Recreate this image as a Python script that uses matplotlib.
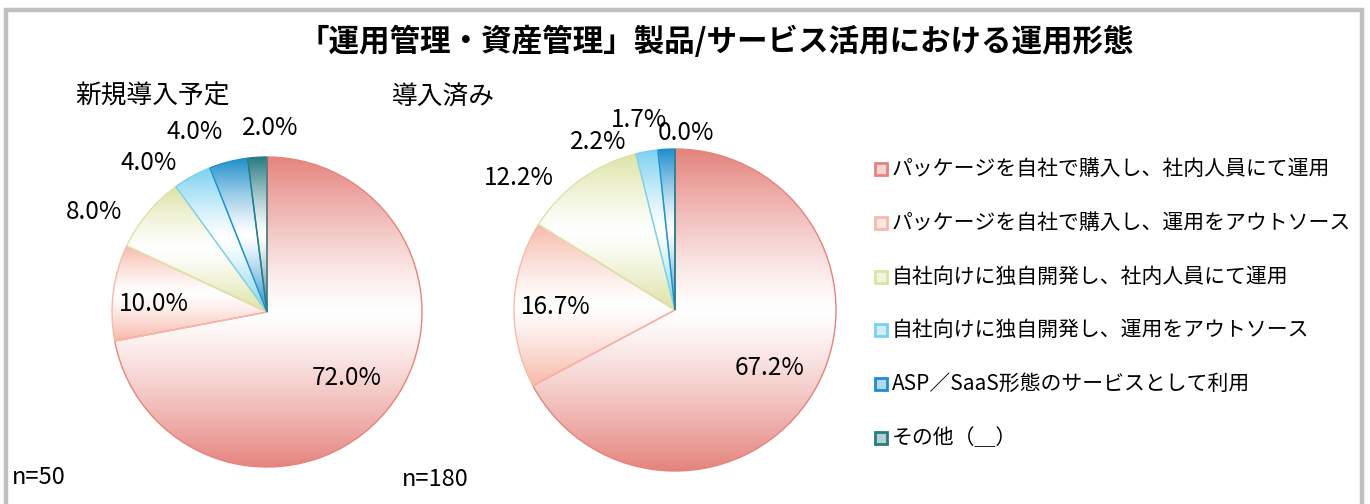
import numpy as np
import matplotlib
matplotlib.use("Agg")
import matplotlib.pyplot as plt
from matplotlib.patches import Rectangle
from matplotlib.colors import to_rgb

plt.rcParams['font.family'] = ['Noto Sans CJK JP', 'DejaVu Sans']

# ---------------- data ----------------
title = "「運用管理・資産管理」製品/サービス活用における運用形態"
categories = [
    "パッケージを自社で購入し、社内人員にて運用",
    "パッケージを自社で購入し、運用をアウトソース",
    "自社向けに独自開発し、社内人員にて運用",
    "自社向けに独自開発し、運用をアウトソース",
    "ASP／SaaS形態のサービスとして利用",
    "その他（＿）",
]
pie_titles = ["新規導入予定", "導入済み"]
sample_sizes = ["n=50", "n=180"]
values_new = [72.0, 10.0, 8.0, 4.0, 4.0, 2.0]
values_done = [67.2, 16.7, 12.2, 2.2, 1.7, 0.0]

# ---------------- style / layout ----------------
colors = ["#E5837D", "#F8B9AA", "#DCE3A4", "#79D0F0", "#1F8FCB", "#2A7B83"]
W, H = 1370, 504
pies = [
    dict(values=values_new, center=(267, H - 312), radius=155,
         label_dist=[0.67, 0.73, 1.29, 1.23, 1.25, 1.19],
         label_shift=[0.0, 3.2, 9.6, 9.6, 7.4, -4.6],
         title_xy=(75, H - 97), n_xy=(12, H - 478)),
    dict(values=values_done, center=(675, H - 310), radius=161,
         label_dist=[0.69, 0.74, 1.27, 1.15, 1.20, 1.10],
         label_shift=[-0.7, 0.6, 13.8, 14.5, 7.6, -3.5],
         title_xy=(392, H - 97), n_xy=(402, H - 480)),
]

fig = plt.figure(figsize=(W / 100, H / 100), dpi=100)
ax = fig.add_axes([0, 0, 1, 1])


def gradient_image(color, n=256):
    c = np.array(to_rgb(color))
    t = np.linspace(0, 1, n)
    w = np.abs(t - 0.5) * 2.0          # 1 at top/bottom, 0 in the middle
    w = w ** 1.25
    rgb = (1 - w)[:, None] * np.ones(3)[None, :] + w[:, None] * c[None, :]
    return rgb[:, None, :]


for p in pies:
    vals = p["values"]
    wedges, _ = ax.pie(vals, colors=colors, startangle=90, counterclock=False,
                       center=p["center"], radius=p["radius"], normalize=True,
                       wedgeprops=dict(linewidth=1.0))
    for w, col, v in zip(wedges, colors, vals):
        w.set_facecolor("none")
        w.set_edgecolor(col)
        w.set_zorder(3)
        if v <= 0:
            continue
        verts = w.get_path().vertices
        x0, x1 = verts[:, 0].min(), verts[:, 0].max()
        y0, y1 = verts[:, 1].min(), verts[:, 1].max()
        im = ax.imshow(gradient_image(col), extent=[x0, x1, y0, y1],
                       origin="lower", aspect="auto", interpolation="bilinear",
                       zorder=2)
        im.set_clip_path(w)
    # percentage labels
    total = sum(vals)
    cum = 0.0
    cx, cy = p["center"]
    r = p["radius"]
    for i, v in enumerate(vals):
        mid = cum + v / 2.0
        cum += v
        ang = np.deg2rad(90 - 360.0 * mid / total + p["label_shift"][i])
        d = p["label_dist"][i] * r
        ax.text(cx + d * np.cos(ang), cy + d * np.sin(ang), f"{v:.1f}%",
                ha="center", va="center", fontsize=17.5, color="black",
                zorder=5)

for p, t, n in zip(pies, pie_titles, sample_sizes):
    ax.text(p["title_xy"][0], p["title_xy"][1], t, ha="left", va="center",
            fontsize=18.5, color="black")
    ax.text(p["n_xy"][0], p["n_xy"][1], n, ha="left", va="center",
            fontsize=17, color="black")

ax.text(716, H - 42, title, ha="center", va="center", fontsize=22,
        fontweight="bold", color="black")

# legend
leg_x, leg_y0, leg_dy = 875, H - 169, 53.8
for i, (lab, col) in enumerate(zip(categories, colors)):
    y = leg_y0 - i * leg_dy
    c = np.array(to_rgb(col))
    fill = 0.35 * c + 0.65
    ax.add_patch(Rectangle((leg_x, y - 6), 12, 12, facecolor=fill,
                           edgecolor=col, linewidth=2.0, zorder=4))
    ax.text(leg_x + 17, y, lab, ha="left", va="center", fontsize=15.0,
            color="black")

# frame border (gray)
ax.plot([6.5, 6.5, 1362.5, 1362.5], [-5, H - 9.5, H - 9.5, -5],
        color="#C0C0C0", linewidth=3.2, solid_joinstyle="miter", zorder=6)

ax.set_xlim(0, W)
ax.set_ylim(0, H)
ax.set_aspect("auto")
ax.axis("off")

fig.savefig("out.png", dpi=100, facecolor="white")
